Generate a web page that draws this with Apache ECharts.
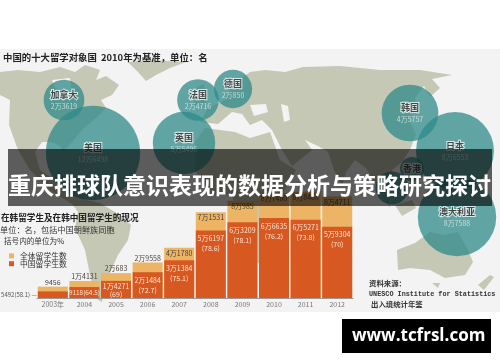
<!DOCTYPE html>
<html>
<head>
<meta charset="utf-8">
<style>
html,body{margin:0;padding:0;background:#fff}
#backdrop,#main{position:absolute;left:0;top:0;width:500px;height:362px}
</style>
<script src="https://cdn.jsdelivr.net/npm/echarts@6/dist/echarts.min.js"></script>
</head>
<body>
<div id="backdrop"></div>
<div id="main"></div>
<script>
// bar chart data
var years = ['2003年', '2004', '2005', '2006', '2007', '2008', '2009', '2010', '2011', '2012'];
var allStudents = [9456, 14131, 20683, 29558, 41780, 71531, 80985, 87480, 88468, 84711];
var cnStudents = [5492, 9118, 14271, 21484, 31384, 56197, 63209, 66635, 65271, 59304];
var cnShare = [58.1, 64.5, 69, 72.7, 75.1, 78.6, 78.1, 76.2, 73.8, 70];

// bubble data, last two names: 香港 and the one whose label is hidden behind the band
var countries = ['美国', '英国', '加拿大', '法国', '德国', '韩国', '日本', '澳大利亚', '香港', ''];
var abroad = [126498, 55496, 23619, 24716, 20850, 45757, 86553, 87588, 8200, 15500];
var mapX = [93, 184, 64, 198, 233, 410, 455, 457, 412, 392];
var mapY = [153, 143, 100, 100, 89, 113, 151, 217, 169, 188];

var fontCn = '"Noto Sans CJK SC", sans-serif';
var landColor = '#c4c8b4';

function wan(v) {
	return v >= 10000 ? Math.floor(v / 10000) + '万' + (v % 10000) : '' + v;
}

// backdrop only, rough outlines of the land
var land = [
	[[0,72],[18,70],[40,72],[60,67],[75,72],[85,65],[100,70],[96,80],[106,76],[119,85],[112,95],[101,100],[106,108],[96,118],[82,130],[72,142],[63,152],[60,146],[52,142],[42,142],[35,152],[40,170],[52,178],[60,170],[63,178],[75,190],[86,200],[100,203],[115,212],[131,225],[128,240],[118,255],[112,268],[105,285],[102,302],[95,298],[90,275],[85,250],[75,228],[78,212],[72,204],[50,190],[30,170],[18,150],[9,125],[10,100],[0,95]],
	[[128,62],[150,60],[186,62],[170,68],[156,75],[146,81],[138,72]],
	[[200,122],[208,108],[225,100],[232,85],[250,72],[265,70],[285,72],[303,67],[340,66],[380,70],[420,70],[452,75],[432,79],[440,88],[430,97],[424,86],[415,98],[418,110],[408,118],[416,134],[410,150],[402,162],[392,170],[396,182],[388,196],[390,208],[382,194],[374,182],[366,168],[355,160],[346,172],[342,187],[334,170],[328,152],[318,146],[305,140],[312,150],[292,166],[282,150],[272,130],[262,120],[250,125],[242,114],[232,112],[218,124]],
	[[195,142],[205,128],[235,132],[250,138],[270,132],[280,160],[296,170],[282,195],[285,225],[265,262],[250,265],[240,230],[232,195],[210,195],[195,170]],
	[[397,250],[415,243],[430,232],[445,235],[458,232],[468,250],[473,262],[465,275],[445,278],[430,270],[410,268],[398,270]]
];
var islands = [
	[[478,285],[490,275],[494,277],[484,290]],
	[[432,283],[440,283],[438,288]],
	[[395,205],[412,200],[416,208],[402,216]],
	[[440,205],[472,212],[470,218],[445,214]],
	[[408,172],[414,172],[416,186],[410,184]],
	[[196,88],[204,84],[206,104],[194,106]]
];
var water = [
	[[250,105],[266,104],[268,112],[254,116]],
	[[281,104],[288,106],[290,120],[284,122]],
	[[52,80],[70,78],[72,96],[58,94]]
];

// grey panel and land get their own chart under the main one
var backGraphics = [
	{type: 'rect', z: 0, shape: {x: 0, y: 49, width: 500, height: 263}, style: {fill: '#f3f3f3'}}
];
land.forEach(function(p) {
	backGraphics.push({type: 'polygon', z: 1, shape: {points: p}, style: {fill: landColor}});
});
var backChart = echarts.init(document.getElementById('backdrop'));
backChart.setOption({animation: false, backgroundColor: '#fff', graphic: backGraphics});

function txt(x, y, s, size, color, weight, font) {
	return {type: 'text', z: 60, silent: true, x: x, y: y, style: {
		text: s, fontSize: size, fill: color, fontWeight: weight || 'normal',
		fontFamily: font || fontCn, verticalAlign: 'middle'
	}};
}

var graphics = [];
islands.forEach(function(p) {
	graphics.push({type: 'polygon', z: 1, shape: {points: p}, style: {fill: landColor}});
});
water.forEach(function(p) {
	graphics.push({type: 'polygon', z: 1, shape: {points: p}, style: {fill: '#f3f3f3'}});
});
graphics.push(txt(3, 57, '中国的十大留学对象国  2010年为基准，单位：名', 9.4, '#222', 'bold'));
graphics.push(txt(1, 218, '在韩留学生及在韩中国留学生的现况', 8.6, '#222', 'bold'));
graphics.push(txt(0, 230, '单位：名，包括中国朝鲜族同胞', 8.2, '#333'));
graphics.push(txt(4, 241, '括号内的单位为%', 7.6, '#333'));
graphics.push(txt(369, 283, '资料来源：', 7.4, '#333', 'bold'));
graphics.push(txt(369, 294, 'UNESCO Institute for Statistics', 6.8, '#333', 'bold', '"Liberation Mono", monospace'));
graphics.push(txt(371, 304, '出入境统计年鉴', 7.4, '#333', 'bold'));
// dark band and its headline sit above everything
graphics.push({type: 'rect', z: 50, silent: true, shape: {x: 8, y: 149, width: 484, height: 57}, style: {fill: 'rgba(3,3,3,0.63)'}});
graphics.push(txt(8, 185, '重庆排球队意识表现的数据分析与策略研究探讨', 23, '#fff', 'bold'));
graphics.push({type: 'rect', z: 50, silent: true, shape: {x: 342, y: 319, width: 149, height: 34}, style: {fill: '#000'}});
graphics.push(txt(352, 336, 'www.tcfrsl.com', 17, '#fff', 'bold', '"Open Sans", sans-serif'));

var bubbleData = countries.map(function(c, i) {
	return {name: c, value: [mapX[i], mapY[i], abroad[i]]};
});

var totalData = allStudents.map(function(v, i) {
	return {value: v, label: {position: i < 4 ? 'top' : 'insideTop', distance: i < 4 ? 1 : 2}};
});
var cnData = cnStudents.map(function(v, i) {
	if (i == 0) {
		return {value: v, label: {position: 'left', distance: 1, fontSize: 6, color: '#555', formatter: wan(v) + '(' + cnShare[i] + ') —'}};
	}
	if (i == 1) {
		return {value: v, label: {position: 'inside', fontSize: 6.4, formatter: v + '(' + cnShare[i] + ')'}};
	}
	if (i == 2) {
		return {value: v, label: {distance: 1, lineHeight: 8}};
	}
	return {value: v};
});

var option = {
	animation: false,
	backgroundColor: 'transparent',
	graphic: graphics,
	textStyle: {fontFamily: fontCn},
	legend: {
		left: 4, top: 247, orient: 'vertical', itemWidth: 5, itemHeight: 5, itemGap: 0,
		icon: 'rect', selectedMode: false, z: 60,
		textStyle: {fontSize: 7.8, color: '#333', padding: [0, 0, 0, 1]},
		data: ['全体留学生数', '中国留学生数']
	},
	grid: [
		{left: 0, right: 0, top: 0, bottom: 0},
		{left: 37, right: 147, top: 178, bottom: 64}
	],
	xAxis: [
		{type: 'value', gridIndex: 0, min: 0, max: 500, show: false},
		{
			type: 'category', gridIndex: 1, data: years,
			axisLine: {lineStyle: {color: '#999', width: 1}},
			axisTick: {show: false},
			axisLabel: {fontSize: 7, color: '#777', margin: 3, interval: 0}
		}
	],
	yAxis: [
		{type: 'value', gridIndex: 0, min: 0, max: 362, inverse: true, show: false},
		{type: 'value', gridIndex: 1, min: 0, max: 100000, show: false}
	],
	series: [
		{
			type: 'scatter', xAxisIndex: 0, yAxisIndex: 0, z: 3, silent: true,
			data: bubbleData,
			symbolSize: function(v) { return Math.sqrt(v[2]) * 0.265; },
			itemStyle: {color: '#2f8a8a', opacity: 0.75},
			label: {
				show: true, position: 'inside',
				formatter: function(p) {
					if (!p.name) return '';
					if (p.name == '香港') return '{n|香港}';
					return '{n|' + p.name + '}\n{v|' + wan(p.value[2]) + '}';
				},
				rich: {
					n: {fontSize: 9, fontWeight: 'bold', color: '#111', textBorderColor: '#fff', textBorderWidth: 2, lineHeight: 12},
					v: {fontSize: 7, color: '#e4efee', lineHeight: 10}
				}
			}
		},
		{
			name: '全体留学生数', type: 'bar', xAxisIndex: 1, yAxisIndex: 1, z: 4, silent: true,
			barWidth: 30, barGap: '-100%',
			data: totalData,
			itemStyle: {color: '#ecb464'},
			label: {show: true, fontSize: 7, color: '#4a4238', formatter: function(p) { return wan(p.value); }}
		},
		{
			name: '中国留学生数', type: 'bar', xAxisIndex: 1, yAxisIndex: 1, z: 5, silent: true,
			barWidth: 30, barGap: '-100%',
			data: cnData,
			itemStyle: {color: '#d75820'},
			label: {
				show: true, position: 'insideTop', distance: 3, fontSize: 7, color: '#fbe6d6', lineHeight: 10,
				formatter: function(p) { return wan(p.value) + '\n(' + cnShare[p.dataIndex] + ')'; }
			}
		}
	]
};

var myChart = echarts.init(document.getElementById('main'));
myChart.setOption(option);
</script>
</body>
</html>
